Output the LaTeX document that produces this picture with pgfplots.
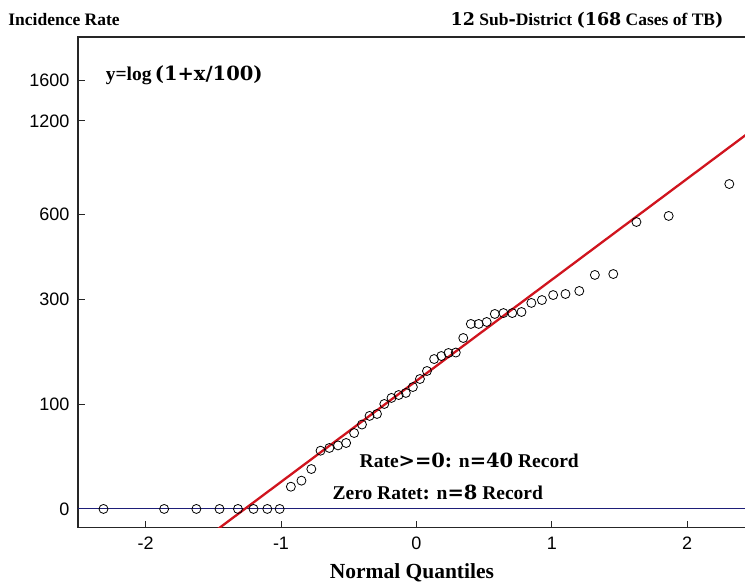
\documentclass[border=0pt]{standalone}
\usepackage{fontspec}
\setmainfont{Liberation Serif}
\newfontfamily\arial{Liberation Sans}
\newfontfamily\dv{DejaVu Serif}
\usepackage{pgfplots}
\pgfplotsset{compat=1.18}
\definecolor{fitred}{HTML}{D0141E}
\definecolor{navy}{HTML}{1E1E78}
\pgfplotstableread{
z v
-2.311 0
-1.863 0
-1.625 0
-1.454 0
-1.318 0
-1.203 0
-1.101 0
-1.010 0
-0.927 0.147
-0.849 0.187
-0.776 0.264
-0.708 0.385
-0.643 0.403
-0.579 0.420
-0.519 0.436
-0.460 0.502
-0.402 0.558
-0.346 0.615
-0.291 0.628
-0.237 0.694
-0.184 0.734
-0.131 0.753
-0.078 0.767
-0.026 0.806
0.026 0.859
0.078 0.912
0.131 0.991
0.184 1.011
0.237 1.031
0.291 1.034
0.346 1.130
0.402 1.223
0.460 1.223
0.519 1.236
0.579 1.289
0.643 1.295
0.708 1.295
0.776 1.302
0.849 1.362
0.927 1.381
1.010 1.414
1.101 1.421
1.203 1.441
1.318 1.547
1.454 1.553
1.625 1.897
1.863 1.937
2.311 2.148
}\qqdata
\begin{document}
\begin{tikzpicture}
\begin{axis}[
  scale only axis, width=677pt, height=490.7pt,
  xmin=-2.5, xmax=2.5, ymin=-0.124, ymax=3.12,
  axis line style={line width=1.3pt, black!85},
  xtick={-2,-1,0,1,2}, xticklabels={-2,-1,0,1,2},
  ytick={0,0.6931,1.3863,1.9459,2.5649,2.8332},
  yticklabels={0,100,300,600,1200,1600},
  xtick pos=bottom, ytick pos=left,
  tick style={black!85, line width=1pt},
  major tick length=7pt,
  ticklabel style={font=\arial\fontsize{18}{18}\selectfont},
  xticklabel style={yshift=-6pt},
  yticklabel style={xshift=-5pt},
]
\addplot[navy, line width=1.1pt] coordinates {(-2.6,0) (2.6,0)};
\addplot[only marks, mark=o, mark size=4.5pt, mark options={line width=0.8pt, black}] table[x=z, y=v] {\qqdata};
\addplot[fitred, line width=2.3pt] coordinates {(-1.7,-0.289) (2.7,2.651)};
\node[anchor=west, font=\bfseries\fontsize{19.5}{19.5}\selectfont] at (axis cs:-2.32,2.868) {y=log{\dv\,(1+x/100)}};
\node[anchor=west, font=\bfseries\fontsize{19.5}{19.5}\selectfont] at (axis cs:-0.445,0.324) {Rate{\dv >=0:}\hspace{0.35em}n{\dv =40} Record};
\node[anchor=west, font=\bfseries\fontsize{19.5}{19.5}\selectfont] at (axis cs:-0.645,0.112) {Zero Ratet{\dv :}\hspace{0.35em}n{\dv =8} Record};
\coordinate (SW) at (rel axis cs:0,0);
\coordinate (NE) at (rel axis cs:1,1);
\coordinate (NW) at (rel axis cs:0,1);
\end{axis}
\node[anchor=west, font=\bfseries\fontsize{17.5}{17.5}\selectfont] at ([xshift=-73pt,yshift=17pt]NW) {Incidence Rate};
\node[anchor=east, font=\bfseries\fontsize{17.5}{17.5}\selectfont] at ([xshift=-27.9pt,yshift=17pt]NE) {{\dv 12} Sub{\dv -}District {\dv (168} Cases of TB{\dv )}};
\node[font=\bfseries\fontsize{21.5}{21.5}\selectfont] at ([xshift=334pt,yshift=-45.3pt]SW) {Normal Quantiles};
\pgfresetboundingbox
\path[use as bounding box] ([xshift=-77.9pt,yshift=-55.3pt]SW) rectangle ([xshift=-9.9pt,yshift=37pt]NE);
\end{tikzpicture}
\end{document}
